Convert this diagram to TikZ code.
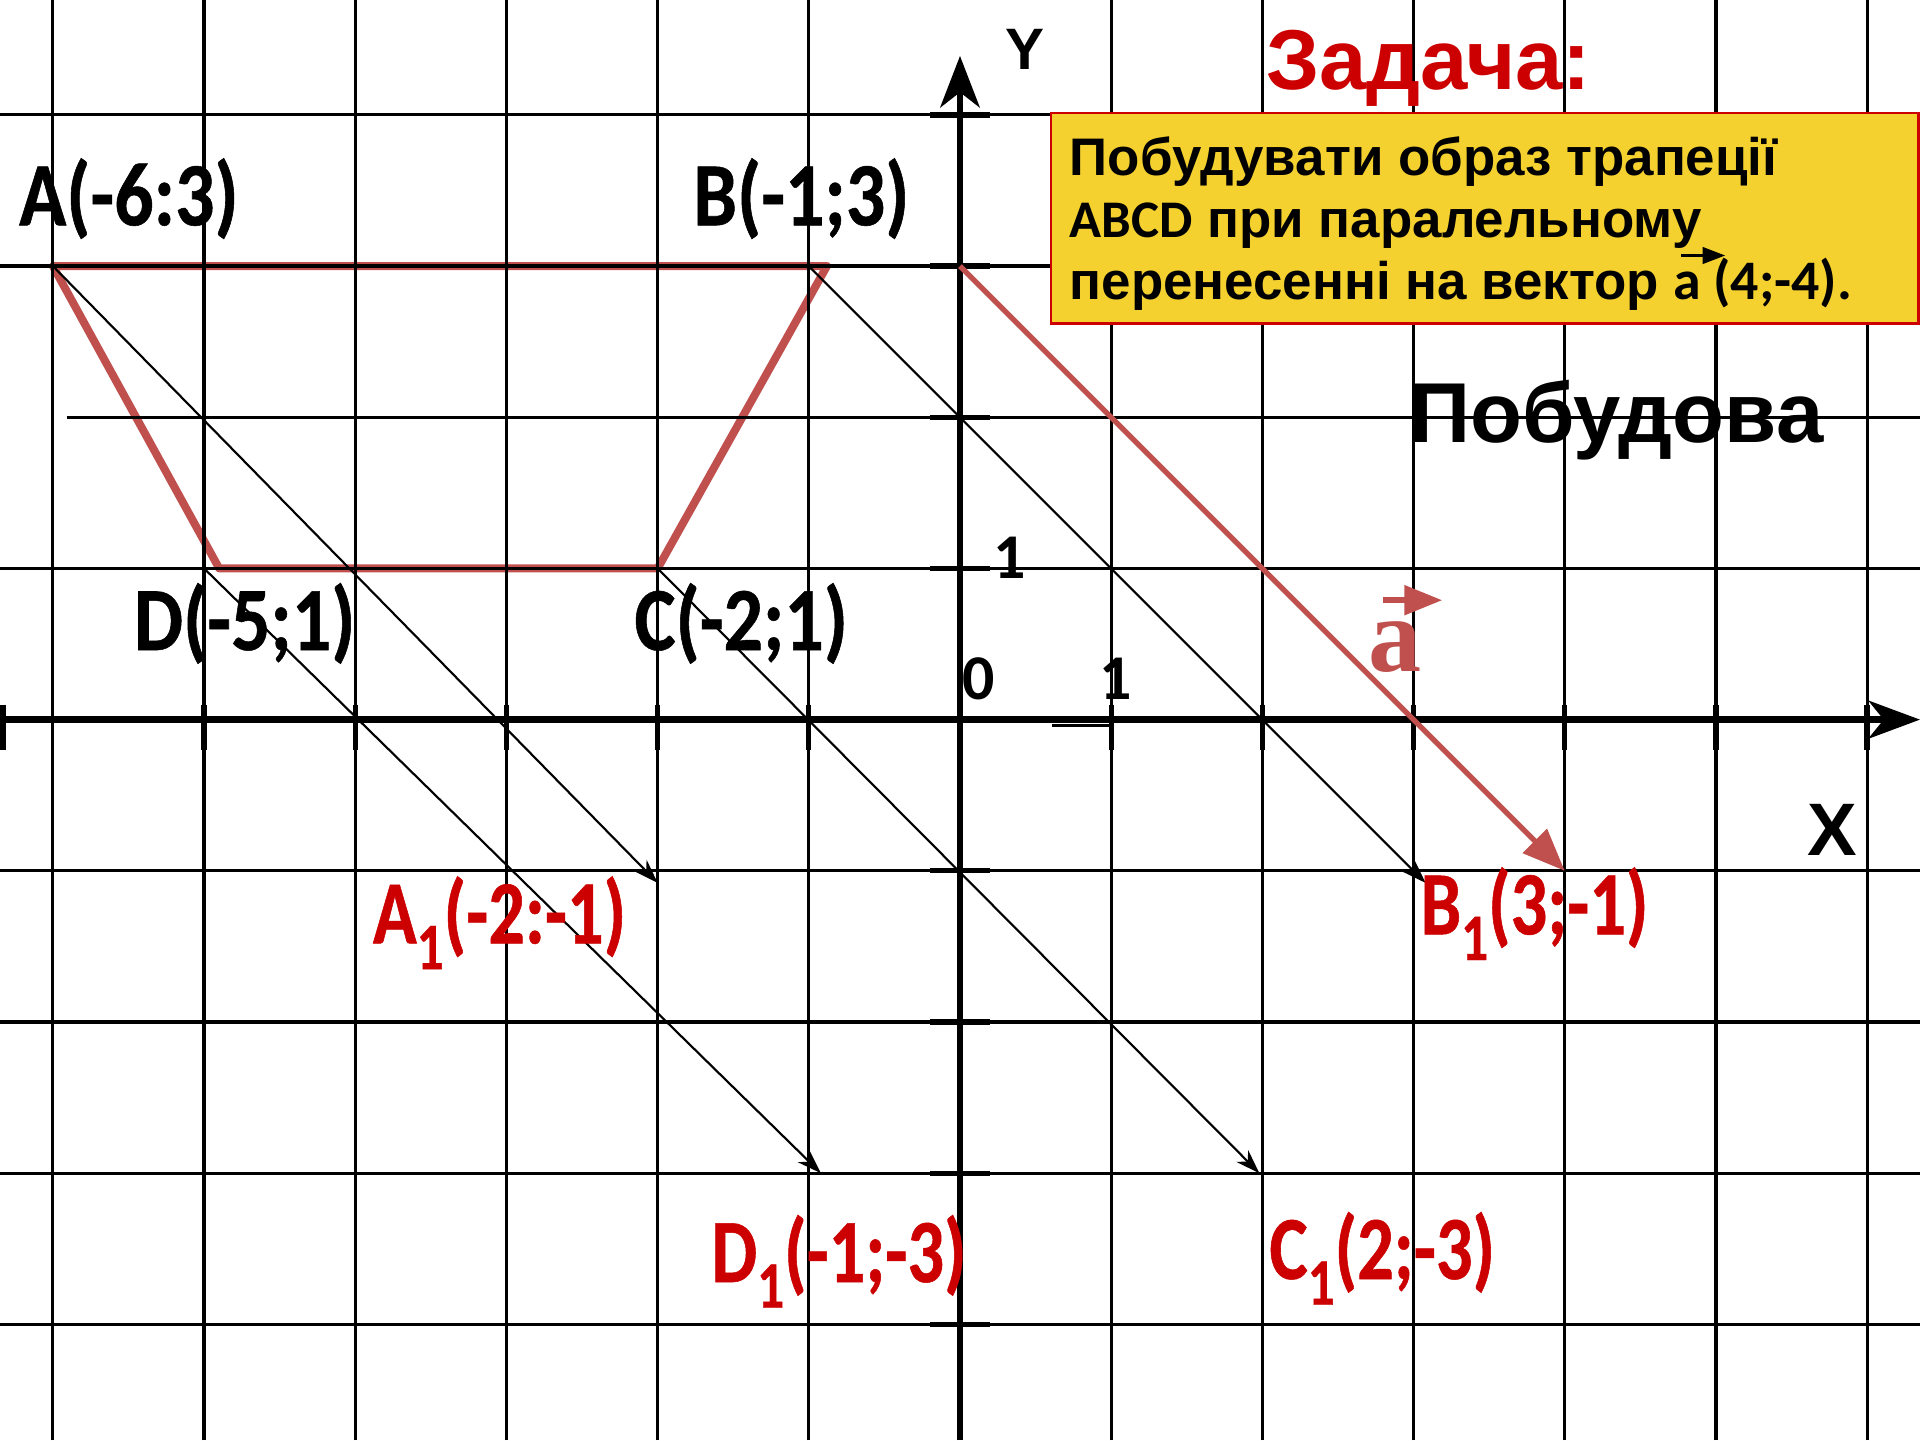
\documentclass[tikz,border=0pt]{standalone}
\usepackage{fontspec}
\setmainfont{Liberation Sans}
\newfontfamily\calib[FakeStretch=0.86,FakeBold=0.6]{Carlito}
\newfontfamily\calibr[FakeStretch=0.80,FakeBold=0.6]{Carlito}
\newfontfamily\calibn{Carlito}
\newfontfamily\timesf{Liberation Serif}
\usetikzlibrary{arrows.meta}
\definecolor{trapred}{RGB}{192,80,77}
\definecolor{labred}{RGB}{204,0,0}
\definecolor{boxyellow}{RGB}{245,209,48}
\newcommand{\lowone}{\raisebox{-0.17cm}{\fontsize{12.5}{12.5}\selectfont 1}}
\begin{document}
\begin{tikzpicture}[
    gridline/.style={line width=0.6pt},
    axisline/.style={line width=1.3pt},
    tickmark/.style={line width=1pt},
    shiftarrow/.style={line width=0.4pt, -{Stealth[length=1.6mm,width=1.1mm]}},
    ptlabel/.style={anchor=base west, inner sep=0pt, font=\calib\bfseries\fontsize{17}{17}\selectfont},
    imglabel/.style={anchor=base west, inner sep=0pt, text=labred, font=\calibr\bfseries\fontsize{17}{17}\selectfont},
    boxtxt/.style={anchor=base west, inner sep=0pt, font=\bfseries\fontsize{9.95}{12}\selectfont},
    numlabel/.style={inner sep=0pt, font=\calibn\bfseries\fontsize{12}{12}\selectfont}
]
            \useasboundingbox (-6.35,-4.766) rectangle (6.35,4.76);
            % trapezoid ABCD
            \coordinate (A) at (-6,3);
            \coordinate (B) at (-1,3);
            \coordinate (C) at (-2,1);
            \coordinate (D) at (-5,1);
            \coordinate (Bt) at (-0.88,3);
            \coordinate (Dt) at (-4.9,1);
            \draw[trapred, line width=1.5pt, line join=round] (A) -- (Bt) -- (C) -- (Dt) -- cycle;
            % grid
            \foreach \x in {-6,-5,-4,-3,-2,-1,1,2,3,4,5,6} {
                \draw[gridline] (\x,-4.766) -- (\x,4.76);
            }
            \foreach \y in {-4,-3,-2,-1,1,3,4} {
                \draw[gridline] (-6.35,\y) -- (6.35,\y);
            }
            \draw[gridline] (-5.91,2) -- (6.35,2);
            % axes
            \coordinate (xl) at (-6.35,0);
            \coordinate (xr) at (6.35,0);
            \coordinate (yb) at (0,-4.766);
            \coordinate (yt) at (0,4.39);
            \draw[axisline, -{Stealth[length=3.4mm,width=2.5mm,inset=1mm]}] (xl) -- (xr);
            \draw[axisline, -{Stealth[length=3.4mm,width=2.6mm,inset=1mm]}] (yb) -- (yt);
            \foreach \x in {-6.33,-5,-4,-3,-2,-1,1,2,3,4,5,6} {
                \draw[tickmark] (\x,0.1) -- (\x,-0.2);
            }
            \foreach \y in {-4,-3,-2,-1,1,2,3,4} {
                \draw[tickmark] (-0.2,\y) -- (0.2,\y);
            }
            \draw[gridline] (0.61,-0.04) -- (1,-0.04);
            \node[numlabel] (n0) at (0.125,0.27) {0};
            \node[numlabel] (nx) at (1.03,0.27) {1};
            \node[numlabel] (ny) at (0.33,1.07) {1};
            \node[inner sep=0pt, font=\bfseries\fontsize{11}{11}\selectfont] (ly) at (0.43,4.43) {Y};
            \node[inner sep=0pt, font=\bfseries\fontsize{14}{14}\selectfont] (lx) at (5.77,-0.73) {X};
            % images of the vertices
            \coordinate (A1) at (-2,-1.08);
            \coordinate (B1) at (3.08,-1.08);
            \coordinate (C1) at (1.98,-3);
            \coordinate (D1) at (-0.92,-3);
            \foreach \p in {A,B,C,D} {
                \draw[shiftarrow] (\p) -- (\p1);
            }
            % vector a
            \coordinate (V0) at (0,3);
            \coordinate (V1) at (4,-1);
            \draw[trapred, line width=1pt, -{Triangle[length=2.8mm,width=2.2mm]}] (V0) -- (V1);
            \node[inner sep=0pt, text=trapred, font=\timesf\bfseries\fontsize{20}{20}\selectfont] (va) at (2.88,0.48) {a};
            \draw[trapred, line width=1.1pt, -{Triangle[length=2.5mm,width=1.9mm]}] ([shift={(-0.08,0.31)}]va.center) -- ([shift={(0.31,0.31)}]va.center);
            % labels
            \node[ptlabel] (lA) at (-6.23,3.27) {A(-6:3)};
            \node[ptlabel] (lB) at (-1.77,3.27) {B(-1;3)};
            \node[ptlabel] (lD) at (-5.47,0.46) {D(-5;1)};
            \node[ptlabel] (lC) at (-2.16,0.46) {C(-2;1)};
            \node[imglabel] (lA1) at (-3.89,-1.48) {A\lowone(-2:-1)};
            \node[imglabel] (lB1) at (3.04,-1.42) {B\lowone(3;-1)};
            \node[imglabel] (lC1) at (2.04,-3.70) {C\lowone(2;-3)};
            \node[imglabel] (lD1) at (-1.65,-3.72) {D\lowone(-1;-3)};
            % task
            \node[anchor=base west, inner sep=0pt, text=labred, font=\bfseries\fontsize{16}{16}\selectfont] (title) at (2.02,4.17) {Задача:};
            \filldraw[fill=boxyellow, draw=labred, line width=0.4pt] (0.6,2.62) rectangle (6.34,4.01);
            \node[boxtxt] (t1) at (0.72,3.60) {Побудувати образ трапеції};
            \node[boxtxt] (t2) at (0.72,3.19) {{\calibn ABCD} при паралельному};
            \node[boxtxt] (t3) at (0.72,2.78) {перенесенні на вектор};
            \node[boxtxt, font=\calibn\bfseries\fontsize{10.5}{12}\selectfont] (t3b) at ([xshift=0.08cm]t3.base east) {а (4;-4).};
            \draw[line width=0.5pt, -{Triangle[length=1.5mm,width=1.1mm]}] ([shift={(0.06,0.29)}]t3b.base west) -- ([shift={(0.35,0.29)}]t3b.base west);
            \node[anchor=base west, inner sep=0pt, font=\bfseries\fontsize{16}{16}\selectfont] (build) at (2.965,1.83) {Побудова};
        \end{tikzpicture}
\end{document}
